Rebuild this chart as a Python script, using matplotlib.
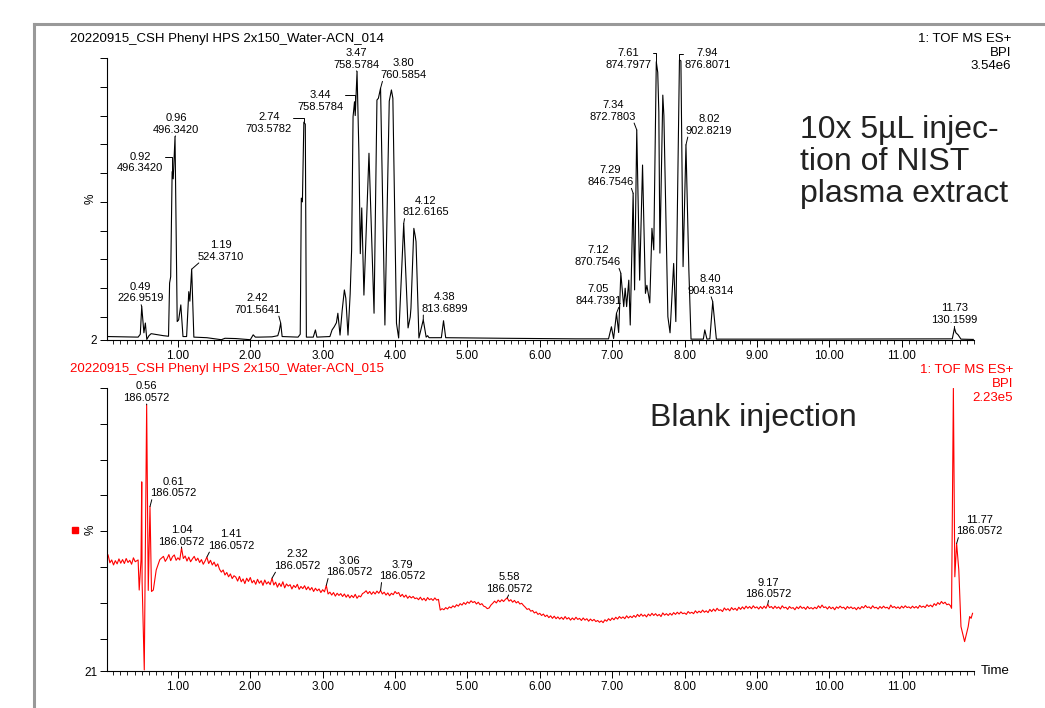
import numpy as np
import matplotlib.pyplot as plt
from matplotlib.lines import Line2D
from matplotlib.ticker import MultipleLocator

plt.rcParams['font.family'] = ['Liberation Sans', 'DejaVu Sans']

# --- sample run (_014): BPI trace, retention time (min) vs %
top_time = [0.03, 0.45, 0.48, 0.50, 0.53, 0.55, 0.57, 0.60, 0.63, 0.70, 0.80, 0.87,
            0.885, 0.90, 0.92, 0.935, 0.96, 0.99, 1.01, 1.04, 1.07, 1.12, 1.15, 1.165,
            1.19, 1.22, 1.40, 1.55, 1.60, 1.65, 1.80, 1.95, 2.00, 2.04, 2.07, 2.12,
            2.30, 2.38, 2.40, 2.42, 2.44, 2.66, 2.69, 2.705, 2.72, 2.74, 2.76, 2.775,
            2.87, 2.90, 2.92, 3.10, 3.13, 3.16, 3.19, 3.21, 3.24, 3.27, 3.30, 3.32,
            3.35, 3.38, 3.40, 3.42, 3.44, 3.45, 3.475, 3.50, 3.52, 3.54, 3.57, 3.64,
            3.71, 3.75, 3.77, 3.80, 3.86, 3.92, 3.95, 3.97, 4.02, 4.05, 4.12, 4.18,
            4.21, 4.22, 4.26, 4.28, 4.29, 4.33, 4.39, 4.43, 4.45, 4.47, 4.64, 4.67,
            4.70, 5.50, 6.50, 6.95, 6.99, 7.02, 7.06, 7.09, 7.12, 7.16, 7.18, 7.20,
            7.23, 7.25, 7.29, 7.31, 7.34, 7.38, 7.42, 7.46, 7.48, 7.52, 7.55, 7.575,
            7.61, 7.63, 7.645, 7.66, 7.70, 7.715, 7.77, 7.80, 7.85, 7.88, 7.93, 7.95,
            7.98, 8.02, 8.06, 8.09, 8.26, 8.28, 8.31, 8.35, 8.39, 8.44, 9.50, 11.70,
            11.73, 11.75, 11.78, 11.82, 11.99]
top_pct = [3.2, 3.0, 4.0, 13.6, 4.5, 7.9, 2.2, 3.5, 4.2, 3.9, 3.5, 3.3,
           21.8, 24.0, 60.5, 58.0, 72.6, 8.4, 9.0, 14.2, 3.2, 3.2, 18.8, 15.5,
           26.6, 3.0, 2.8, 2.3, 2.1, 2.6, 2.5, 2.2, 2.1, 3.8, 3.0, 3.0,
           3.1, 3.5, 5.2, 7.9, 3.2, 3.0, 4.0, 51.3, 50.0, 77.7, 77.0, 3.0,
           3.0, 5.5, 3.0, 3.2, 5.5, 6.6, 8.0, 11.3, 3.7, 12.4, 19.4, 16.5,
           3.7, 18.0, 33.3, 79.6, 84.8, 80.0, 95.2, 68.0, 32.0, 47.9, 17.6, 66.9,
           11.3, 85.4, 86.0, 89.5, 7.2, 85.0, 88.9, 86.0, 7.8, 2.7, 42.5, 6.2,
           10.0, 13.1, 40.8, 38.0, 36.2, 2.7, 9.0, 3.0, 3.5, 2.8, 2.8, 8.7,
           2.8, 2.6, 2.4, 2.4, 6.6, 2.5, 11.3, 4.6, 25.2, 13.6, 20.0, 13.6,
           22.8, 7.2, 53.0, 19.4, 75.0, 22.8, 62.8, 18.2, 21.0, 14.9, 40.8, 33.3,
           98.7, 95.0, 81.3, 32.2, 87.1, 80.0, 10.1, 4.5, 28.6, 8.4, 99.3, 99.0,
           27.5, 69.8, 26.3, 2.3, 2.3, 5.5, 2.3, 2.4, 15.3, 2.3, 2.3, 2.4,
           6.1, 4.5, 3.8, 2.3, 2.2]

# --- blank run (_015), scans every 0.025 min outside the injection spikes
blank_pre_start, blank_step = 0.035, 0.025
blank_pre_pct = [53.4, 51.2, 52.0, 50.6, 51.8, 50.9, 52.3, 51.1, 52.1, 51.0, 52.4, 51.3,
                 51.9, 50.8, 52.6, 51.5]
blank_spike_time = [0.45, 0.465, 0.49, 0.50, 0.505, 0.535, 0.568, 0.59, 0.614, 0.635,
                    0.66, 0.70, 0.75]
blank_spike_pct = [52.0, 43.6, 52.0, 73.8, 46.0, 21.3, 95.3, 43.5, 66.9, 43.2,
                   43.6, 49.2, 52.1]
blank_main_start = 0.80
blank_main_pct = [
    53.0, 51.6, 52.4, 53.5, 51.8, 52.9, 53.4, 51.9, 52.6, 52.0, 55.3, 52.4, 53.1, 51.7, 52.8, 51.5, 52.3, 53.0, 51.8, 52.5,
    51.3, 52.1, 50.8, 51.7, 52.8, 51.0, 51.9, 50.6, 51.4, 50.2, 50.9, 49.4, 48.6, 49.2, 47.8, 48.5, 47.3, 48.1, 46.8, 47.6,
    47.2, 46.1, 47.4, 45.9, 46.7, 45.4, 46.9, 46.0, 47.1, 45.6, 46.3, 45.2, 46.6, 45.5, 46.2, 44.9, 46.4, 45.3, 45.9, 45.1,
    46.9, 45.0, 45.8, 44.4, 45.5, 44.6, 45.9, 44.2, 45.3, 44.7, 45.1, 43.9, 44.9, 44.3, 45.2, 43.8, 44.6, 44.0, 44.8, 43.7,
    44.5, 43.6, 44.3, 43.2, 44.1, 43.4, 43.9, 42.9, 43.7, 43.1, 44.9, 42.5, 43.0, 42.2, 42.9, 41.9, 42.7, 42.1, 42.6, 41.8,
    42.5, 41.6, 42.3, 41.4, 42.1, 41.5, 42.4, 41.3, 42.0, 41.7, 42.6, 42.9, 43.4, 42.6, 43.2, 42.4, 43.1, 42.5, 43.3, 42.7,
    43.5, 42.5, 43.0, 42.2, 42.8, 42.0, 42.7, 42.3, 43.2, 42.6, 42.9, 41.8, 42.4, 41.6, 42.2, 41.3, 41.9, 41.4, 41.8, 41.2,
    41.4, 40.9, 41.6, 40.8, 41.3, 40.6, 41.5, 40.9, 41.2, 40.7, 41.4, 40.8, 41.0, 38.0, 38.4, 38.1, 38.7, 38.3, 38.9, 38.6,
    39.2, 38.8, 39.5, 39.1, 39.8, 39.4, 40.1, 39.6, 40.3, 39.9, 40.6, 40.1, 40.4, 39.7, 40.2, 39.5, 39.8, 39.1, 38.9, 38.4,
    38.6, 39.4, 39.9, 40.5, 40.0, 40.8, 40.3, 40.9, 40.4, 41.0, 41.4, 40.5, 40.9, 40.2, 40.7, 40.0, 40.4, 39.7, 39.9, 39.3,
    38.8, 38.2, 38.4, 37.7, 37.9, 37.2, 37.5, 36.8, 37.1, 36.5, 36.9, 36.2, 36.6, 35.9, 36.4, 35.7, 36.3, 35.6, 36.1, 35.5,
    36.0, 35.4, 36.2, 35.5, 35.9, 35.2, 35.8, 35.3, 36.0, 35.4, 35.7, 35.1, 35.8, 35.2, 35.6, 34.9, 35.5, 35.0, 35.4, 34.8,
    35.1, 34.6, 35.0, 34.5, 35.3, 34.9, 35.6, 35.1, 35.8, 35.3, 36.0, 35.5, 36.2, 35.7, 36.1, 35.6, 36.4, 35.8, 36.3, 35.9,
    36.5, 36.0, 36.8, 36.2, 36.9, 36.3, 36.7, 36.1, 36.9, 36.4, 37.1, 36.5, 37.0, 36.4, 36.8, 36.2, 37.2, 36.6, 37.0, 36.5,
    37.1, 36.6, 37.3, 36.8, 37.4, 36.9, 37.5, 37.0, 37.2, 36.8, 37.6, 37.1, 37.4, 37.0, 37.8, 37.2, 37.7, 37.3, 38.0, 37.4,
    37.8, 37.3, 38.2, 37.6, 38.3, 37.7, 38.5, 37.9, 38.1, 37.6, 38.6, 38.0, 38.4, 37.8, 38.7, 38.1, 38.5, 37.9, 38.8, 38.2,
    38.9, 38.3, 39.1, 38.5, 39.0, 38.4, 39.2, 38.6, 38.9, 38.3, 39.0, 38.4, 39.1, 38.5, 39.6, 38.7, 39.0, 38.4, 39.1, 38.5,
    38.9, 38.3, 39.2, 38.6, 38.8, 38.2, 39.0, 38.5, 38.7, 38.1, 38.9, 38.4, 39.1, 38.5, 38.8, 38.2, 39.0, 38.4, 38.7, 38.3,
    38.8, 38.4, 39.2, 38.6, 39.4, 38.7, 38.9, 38.3, 39.0, 38.4, 38.8, 38.1, 38.9, 38.5, 39.1, 38.6, 38.8, 38.2, 39.0, 38.5,
    38.9, 38.4, 38.7, 38.1, 38.8, 38.3, 39.0, 38.6, 39.3, 38.7, 38.9, 38.4, 39.2, 38.6, 38.8, 38.3, 39.0, 38.5, 39.1, 38.6,
    38.8, 38.3, 39.4, 38.7, 39.0, 38.5, 38.9, 38.4, 39.1, 38.6, 39.2, 38.7, 38.9, 38.5, 39.1, 38.6, 39.0, 38.5, 39.3, 38.8,
    39.1, 38.7, 39.5, 39.0, 39.4, 38.9, 39.8, 39.3, 40.1, 39.6, 40.4, 39.8, 40.2, 39.5, 39.7, 39.2]
blank_end_time = [11.69, 11.715, 11.735, 11.76, 11.79, 11.82, 11.87, 11.92, 11.94,
                  11.96, 11.98]
blank_end_pct = [38.5, 99.9, 47.3, 56.6, 49.2, 33.4, 29.2, 33.4, 36.2, 35.7, 37.1]

# peak labels: (time, %, text, dx, dy) offsets in pixels
top_labels = [(0.50, 13.6, '0.49\n226.9519', -1, 14), (0.92, 60.5, '0.92\n496.3420', -32, 9),
              (0.96, 72.6, '0.96\n496.3420', 1, 13), (1.19, 26.6, '1.19\n524.3710', 29, 18),
              (2.42, 7.9, '2.42\n701.5641', -23, 19), (2.74, 77.7, '2.74\n703.5782', -35, -1),
              (3.44, 84.8, '3.44\n758.5784', -34, 1), (3.475, 95.2, '3.47\n758.5784', -1, 13),
              (3.80, 89.5, '3.80\n760.5854', 23, 19), (4.12, 42.5, '4.12\n812.6165', 22, 17),
              (4.39, 9.0, '4.38\n813.6899', 21, 17), (7.06, 11.3, '7.05\n844.7391', -18, 18),
              (7.12, 25.2, '7.12\n870.7546', -23, 17), (7.29, 53.0, '7.29\n846.7546', -23, 17),
              (7.34, 75.0, '7.34\n872.7803', -24, 19), (7.61, 98.7, '7.61\n874.7977', -28, 3),
              (7.93, 99.3, '7.94\n876.8071', 28, 1), (8.02, 69.8, '8.02\n902.8219', 23, 20),
              (8.39, 15.3, '8.40\n904.8314', -2, 17), (11.73, 6.1, '11.73\n130.1599', 0, 14)]
bottom_labels = [(0.568, 95.3, '0.56\n186.0572', 0, 13), (0.614, 66.9, '0.61\n186.0572', 23, 19),
                 (1.05, 55.3, '1.04\n186.0572', 0, 12), (1.40, 52.8, '1.41\n186.0572', 24, 17),
                 (2.30, 46.9, '2.32\n186.0572', 25, 18), (3.05, 44.9, '3.06\n186.0572', 23, 19),
                 (3.80, 43.5, '3.79\n186.0572', 22, 20), (5.55, 41.4, '5.58\n186.0572', 2, 15),
                 (9.15, 39.6, '9.17\n186.0572', 1, 16), (11.76, 56.6, '11.77\n186.0572', 23, 18)]

xticks = [1, 2, 3, 4, 5, 6, 7, 8, 9, 10, 11]

W, H = 1045, 708
fig = plt.figure(figsize=(W / 100, H / 100), dpi=100)

# grey window frame
fig.add_artist(Line2D([33.5 / W, 33.5 / W], [0, 1 - 23.5 / H], color='#999999', lw=2.2))
fig.add_artist(Line2D([33.5 / W, 1], [1 - 23.5 / H, 1 - 23.5 / H], color='#999999', lw=2.2))


def setup(ax, ymin):
    ax.set_xlim(0.02, 12.0)
    ax.set_ylim(ymin, 100)
    for s in ['top', 'right']:
        ax.spines[s].set_visible(False)
    for s in ['left', 'bottom']:
        ax.spines[s].set_linewidth(0.8)
    ax.set_xticks(xticks)
    ax.set_xticklabels(['%.2f' % t for t in xticks], fontsize=8.5)
    ax.xaxis.set_minor_locator(MultipleLocator(0.1))
    ax.tick_params(axis='x', which='major', length=5, width=0.7, pad=2)
    ax.tick_params(axis='x', which='minor', length=3, width=0.6)
    ax.set_yticks([ymin] + list(range(30 if ymin > 20 else 10, 101, 10)))
    ax.set_yticklabels([str(ymin)] + [''] * (len(ax.get_yticks()) - 1), fontsize=8.5)
    ax.tick_params(axis='y', length=5, width=0.7, pad=2)
    ax.text(-0.012, 0.5, '%', transform=ax.transAxes, rotation=90, fontsize=8.5,
            ha='right', va='center')


def add_labels(ax, labels):
    for t, p, txt, dx, dy in labels:
        if abs(dy) < 10:
            # bracket style: horizontal from the text side, then down to the apex
            rel = (1.0, 0.75) if dx < 0 else (0.0, 0.75)
            conn = 'angle,angleA=0,angleB=90,rad=0'
        else:
            rel = (0.5, 0.0) if abs(dx) < 5 else ((0.95, 0.0) if dx < 0 else (0.05, 0.0))
            conn = 'arc3'
        ax.annotate(txt, xy=(t, p), xytext=(dx, dy), textcoords='offset pixels',
                    ha='center', va='center', fontsize=8, linespacing=1.2,
                    annotation_clip=False,
                    arrowprops=dict(arrowstyle='-', color='black', lw=0.7, relpos=rel,
                                    connectionstyle=conn, patchA=None,
                                    shrinkA=1, shrinkB=0))


# top panel
ax1 = fig.add_axes([107 / W, 1 - 340 / H, (974 - 107) / W, (340 - 58) / H])
setup(ax1, 2)
ax1.plot(top_time, top_pct, color='black', lw=0.8)
add_labels(ax1, top_labels)

fig.text(70 / W, 1 - 39 / H, '20220915_CSH Phenyl HPS 2x150_Water-ACN_014', fontsize=9.5,
         va='center', ha='left')
fig.text(1011 / W, 1 - 52.5 / H, '1: TOF MS ES+\nBPI\n3.54e6', fontsize=9.5, va='center',
         ha='right', linespacing=1.2)
fig.text(800 / W, 1 - 162 / H, '10x 5µL injec-\ntion of NIST\nplasma extract', fontsize=23,
         va='center', ha='left', color='#222222', linespacing=1.1)

# bottom panel
blank_pre_time = blank_pre_start + blank_step * np.arange(len(blank_pre_pct))
blank_main_time = blank_main_start + blank_step * np.arange(len(blank_main_pct))
blank_time = np.concatenate([blank_pre_time, blank_spike_time, blank_main_time, blank_end_time])
blank_pct = np.concatenate([blank_pre_pct, blank_spike_pct, blank_main_pct, blank_end_pct])

ax2 = fig.add_axes([107 / W, 1 - 671 / H, (974 - 107) / W, (671 - 388) / H])
setup(ax2, 21)
ax2.plot(blank_time, blank_pct, color='red', lw=0.8)
add_labels(ax2, bottom_labels)
ax2.text(1.008, 0.0, 'Time', transform=ax2.transAxes, fontsize=9.5, ha='left', va='center')

fig.text(70 / W, 1 - 369 / H, '20220915_CSH Phenyl HPS 2x150_Water-ACN_015', fontsize=9.5,
         va='center', ha='left', color='red')
fig.text(1013 / W, 1 - 384 / H, '1: TOF MS ES+\nBPI\n2.23e5', fontsize=9.5, va='center',
         ha='right', color='red', linespacing=1.25)
fig.text(650 / W, 1 - 418 / H, 'Blank injection', fontsize=23, va='center', ha='left',
         color='#222222')
fig.add_artist(Line2D([75 / W], [1 - 530 / H], marker='s', color='red', markersize=5, lw=0))

fig.savefig('out.png', dpi=100)
